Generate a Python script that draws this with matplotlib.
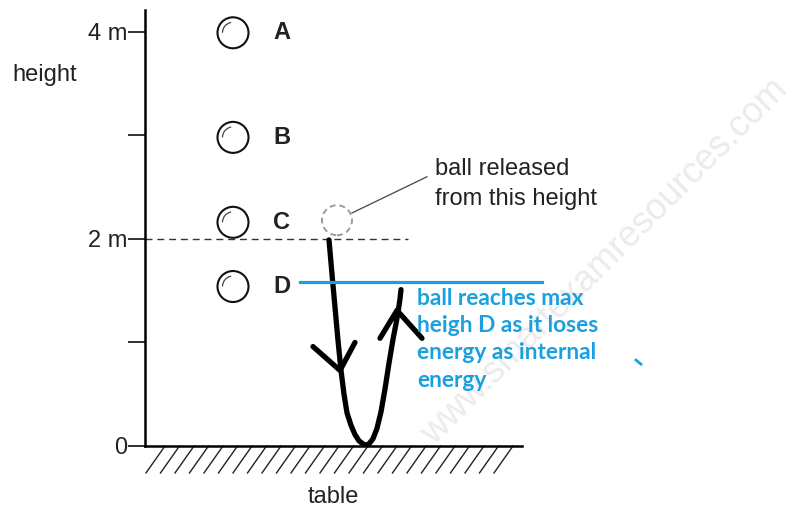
import numpy as np
import matplotlib
matplotlib.use("Agg")
from matplotlib import pyplot as plt
from matplotlib.patches import Ellipse, Arc
from matplotlib.transforms import ScaledTranslation

plt.rcParams['font.family'] = ['Liberation Sans', 'DejaVu Sans']

# heights in metres, x in pixel-like units across the diagram
tick_vals = [0, 1, 2, 3, 4]
tick_labels = ['0', '', '2 m', '', '4 m']

ball_names = ['A', 'B', 'C', 'D']
ball_heights = [3.99, 2.98, 2.16, 1.54]
ball_x = 233

release_x = 337
release_h = 2.18

path_x = [329, 332, 335, 338, 341, 344, 347, 351, 355, 359, 363, 366, 369, 373,
          377, 381, 385, 389, 393, 396, 398, 400, 401]
path_h = [1.99, 1.66, 1.34, 1.02, 0.73, 0.50, 0.32, 0.20, 0.11, 0.05, 0.02, 0.01,
          0.02, 0.07, 0.17, 0.33, 0.55, 0.80, 1.03, 1.18, 1.29, 1.42, 1.51]
down_arrow_x = [313, 340, 355]
down_arrow_h = [0.96, 0.73, 1.00]
up_arrow_x = [380, 397, 422]
up_arrow_h = [1.04, 1.31, 1.04]

max_h_D = 1.58
note = "ball reaches max\nheigh D as it loses\nenergy as internal\nenergy"
blue = '#1aa0e0'

px_per_m = 103.56
ball_r = 15.5

fig = plt.figure(figsize=(8.03, 5.08), dpi=100)
ax = fig.add_axes([145/803, (508-446)/508, (522-145)/803, (446-10)/508])
ax.set_xlim(145, 522)
ax.set_ylim(0, 4.21)

for s in ['top', 'right']:
    ax.spines[s].set_visible(False)
ax.spines['left'].set_linewidth(1.8)
ax.spines['bottom'].set_linewidth(1.8)
ax.set_xticks([])
ax.set_yticks(tick_vals)
ax.set_yticklabels(tick_labels)
ax.tick_params(axis='y', direction='out', length=12, width=1.3, pad=1,
               labelsize=17, colors='#222222')

# table hatching
for x0 in np.arange(146, 505, 14.5):
    ax.plot([x0, x0 + 19], [-0.26, 0], color='#222222', lw=1.0, clip_on=False)

ax.text(333, -0.55, 'table', ha='center', va='baseline', fontsize=17, color='#222222')
ax.text(12, 3.58, 'height', ha='left', va='center', fontsize=17,
        color='#222222', clip_on=False)

# balls (highlight arc drawn in inches so it stays round)
for name, h in zip(ball_names, ball_heights):
    ax.add_patch(Ellipse((ball_x, h), 2 * ball_r, 2 * ball_r / px_per_m,
                         fill=False, ec='#111111', lw=1.5))
    tr = fig.dpi_scale_trans + ScaledTranslation(ball_x, h, ax.transData)
    ax.add_patch(Arc((0, 0), 0.21, 0.21, theta1=100, theta2=180,
                     ec='#444444', lw=0.9, transform=tr))
    ax.text(273, h, name, ha='left', va='center', fontsize=17,
            fontweight='bold', color='#222222')

# release position and dashed 2 m line
ax.plot([145, 408], [2, 2], color='#333333', lw=1.0, ls=(0, (5, 3.5)))
ax.add_patch(Ellipse((release_x, release_h), 2 * 15, 2 * 15 / px_per_m,
                     fill=False, ec='#9a9a9a', lw=1.4, ls=(0, (3, 2))))
ax.plot([352, 427], [2.25, 2.60], color='#444444', lw=0.9)
ax.text(435, 2.33, 'ball released\nfrom this height', ha='left', va='baseline',
        fontsize=17, color='#222222', linespacing=1.45, clip_on=False)

# bounce path
ax.plot(path_x, path_h, color='black', lw=3.8, solid_capstyle='round',
        solid_joinstyle='round')
ax.plot(down_arrow_x, down_arrow_h, color='black', lw=3.8,
        solid_capstyle='round', solid_joinstyle='round')
ax.plot(up_arrow_x, up_arrow_h, color='black', lw=3.8,
        solid_capstyle='round', solid_joinstyle='round')

# annotation in blue
ax.plot([300, 542], [max_h_D, max_h_D], color=blue, lw=2.3, clip_on=False)
ax.text(417, 1.53, note, ha='left', va='top', fontsize=16.4, fontweight='bold',
        family=['Lato', 'DejaVu Sans'], color=blue, linespacing=1.38, clip_on=False)
ax.plot([636, 641], [0.83, 0.79], color=blue, lw=2, clip_on=False)

# watermark
ax.text(605, 1.78, 'www.smartexamresources.com', rotation=45, ha='center',
        va='center', fontsize=26, color='#ebebeb', zorder=0, clip_on=False)

fig.savefig('out.png', dpi=100)
